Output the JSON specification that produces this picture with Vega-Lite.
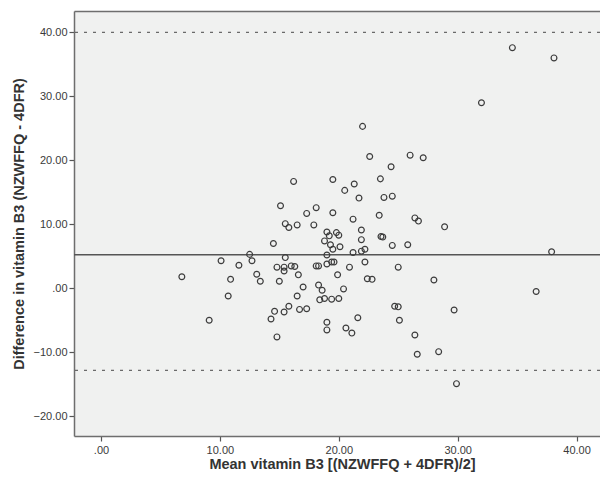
{
  "$schema": "https://vega.github.io/schema/vega-lite/v6.json",
  "width": 526,
  "height": 425,
  "autosize": {"type": "none"},
  "padding": {"left": 74, "top": 11, "right": 0, "bottom": 45},
  "background": "white",
  "config": {
    "view": {"fill": "#F0F1F0", "stroke": null},
    "axis": {
      "grid": false,
      "domain": true,
      "domainColor": "#6E6E6E",
      "domainWidth": 1.5,
      "tickColor": "#555555",
      "tickSize": 5,
      "tickWidth": 1.2,
      "labelFont": "Liberation Sans",
      "labelFontSize": 11,
      "labelColor": "#3a3a3a",
      "labelPadding": 2,
      "titleFont": "Liberation Sans",
      "titleFontSize": 14.5,
      "titleFontWeight": "bold",
      "titleColor": "#333333"
    }
  },
  "resolve": {"axis": {"x": "independent"}},
  "datasets": {
    "points": [
      {"mean": 6.8, "diff": 1.8}, {"mean": 9.1, "diff": -5.0}, {"mean": 10.1, "diff": 4.3}, {"mean": 10.7, "diff": -1.2},
      {"mean": 10.9, "diff": 1.4}, {"mean": 11.6, "diff": 3.6}, {"mean": 12.5, "diff": 5.3}, {"mean": 12.7, "diff": 4.3},
      {"mean": 13.1, "diff": 2.2}, {"mean": 13.4, "diff": 1.1},
      {"mean": 22.0, "diff": 25.3}, {"mean": 22.6, "diff": 20.6}, {"mean": 26.0, "diff": 20.8}, {"mean": 27.1, "diff": 20.4},
      {"mean": 24.4, "diff": 19.0}, {"mean": 16.2, "diff": 16.7}, {"mean": 19.5, "diff": 17.0}, {"mean": 21.3, "diff": 16.3},
      {"mean": 20.5, "diff": 15.3}, {"mean": 23.5, "diff": 17.1}, {"mean": 21.7, "diff": 14.1}, {"mean": 23.8, "diff": 14.2},
      {"mean": 24.5, "diff": 14.4}, {"mean": 15.1, "diff": 12.9}, {"mean": 18.1, "diff": 12.6}, {"mean": 17.3, "diff": 11.7},
      {"mean": 19.5, "diff": 11.8}, {"mean": 21.2, "diff": 10.8}, {"mean": 23.4, "diff": 11.4}, {"mean": 26.4, "diff": 11.0},
      {"mean": 26.7, "diff": 10.5}, {"mean": 15.5, "diff": 10.1}, {"mean": 15.8, "diff": 9.5}, {"mean": 16.5, "diff": 9.9},
      {"mean": 17.9, "diff": 9.9}, {"mean": 21.9, "diff": 9.1}, {"mean": 19.0, "diff": 8.8}, {"mean": 19.2, "diff": 8.2},
      {"mean": 19.8, "diff": 8.7}, {"mean": 20.0, "diff": 8.3}, {"mean": 18.8, "diff": 7.4}, {"mean": 21.9, "diff": 7.6},
      {"mean": 23.55, "diff": 8.1}, {"mean": 23.7, "diff": 8.0}, {"mean": 14.5, "diff": 7.0}, {"mean": 19.3, "diff": 6.8},
      {"mean": 19.5, "diff": 6.1}, {"mean": 20.1, "diff": 6.5}, {"mean": 22.2, "diff": 6.1}, {"mean": 21.9, "diff": 5.8},
      {"mean": 21.2, "diff": 5.6}, {"mean": 24.5, "diff": 6.7}, {"mean": 25.8, "diff": 6.8}, {"mean": 15.5, "diff": 4.8},
      {"mean": 19.0, "diff": 5.2}, {"mean": 14.8, "diff": 3.3}, {"mean": 15.4, "diff": 3.3}, {"mean": 15.4, "diff": 2.7},
      {"mean": 16.0, "diff": 3.5}, {"mean": 16.3, "diff": 3.4}, {"mean": 16.6, "diff": 2.1}, {"mean": 18.1, "diff": 3.5},
      {"mean": 18.3, "diff": 3.5}, {"mean": 19.0, "diff": 3.8}, {"mean": 19.4, "diff": 4.1}, {"mean": 19.6, "diff": 4.1},
      {"mean": 20.9, "diff": 3.3}, {"mean": 22.2, "diff": 4.1}, {"mean": 25.0, "diff": 3.3}, {"mean": 15.0, "diff": 1.1},
      {"mean": 19.9, "diff": 2.1}, {"mean": 17.0, "diff": 0.2}, {"mean": 16.5, "diff": -1.2}, {"mean": 18.3, "diff": 0.5},
      {"mean": 18.6, "diff": -0.3}, {"mean": 20.4, "diff": -0.1}, {"mean": 22.4, "diff": 1.5}, {"mean": 22.8, "diff": 1.4},
      {"mean": 15.8, "diff": -2.8}, {"mean": 14.6, "diff": -3.6}, {"mean": 15.4, "diff": -3.7}, {"mean": 14.3, "diff": -4.8},
      {"mean": 16.7, "diff": -3.3}, {"mean": 17.3, "diff": -3.2}, {"mean": 18.4, "diff": -1.8}, {"mean": 18.8, "diff": -1.6},
      {"mean": 19.4, "diff": -1.7}, {"mean": 20.0, "diff": -1.6}, {"mean": 24.7, "diff": -2.8}, {"mean": 25.0, "diff": -2.9},
      {"mean": 19.0, "diff": -5.3}, {"mean": 19.0, "diff": -6.5}, {"mean": 21.6, "diff": -4.6}, {"mean": 20.6, "diff": -6.2},
      {"mean": 21.1, "diff": -7.0}, {"mean": 25.1, "diff": -5.0}, {"mean": 14.8, "diff": -7.6}, {"mean": 26.4, "diff": -7.3},
      {"mean": 26.6, "diff": -10.3},
      {"mean": 28.9, "diff": 9.6}, {"mean": 37.9, "diff": 5.7}, {"mean": 28.0, "diff": 1.3}, {"mean": 36.6, "diff": -0.5},
      {"mean": 29.7, "diff": -3.4}, {"mean": 28.4, "diff": -9.9}, {"mean": 29.9, "diff": -14.9},
      {"mean": 34.6, "diff": 37.6}, {"mean": 38.1, "diff": 36.0}, {"mean": 32.0, "diff": 29.0}
    ],
    "meanline": [{"value": 5.25}],
    "limits": [{"value": 40.0}, {"value": -12.84}]
  },
  "layer": [
    {
      "data": {"name": "limits"},
      "mark": {"type": "rule", "color": "#6a6a6a", "strokeWidth": 1.3, "strokeDash": [3, 6]},
      "encoding": {
        "y": {"field": "value", "type": "quantitative", "scale": {"domain": [-23.08, 43.33], "nice": false, "zero": false}}
      }
    },
    {
      "data": {"name": "meanline"},
      "mark": {"type": "rule", "color": "#555555", "strokeWidth": 1.5},
      "encoding": {
        "y": {"field": "value", "type": "quantitative"}
      }
    },
    {
      "data": {"name": "points"},
      "mark": {"type": "point", "shape": "circle", "filled": false, "opacity": 0},
      "encoding": {
        "x": {
          "field": "mean", "type": "quantitative",
          "scale": {"domain": [-2.27, 41.97], "nice": false, "zero": false},
          "axis": {"orient": "top", "labels": false, "ticks": false, "title": null}
        },
        "y": {"field": "diff", "type": "quantitative"}
      }
    },
    {
      "data": {"name": "points"},
      "mark": {"type": "point", "shape": "circle", "filled": false, "stroke": "#3c3c3c", "strokeWidth": 1.2, "size": 34, "opacity": 1},
      "encoding": {
        "x": {
          "field": "mean", "type": "quantitative",
          "scale": {"domain": [-2.27, 41.97], "nice": false, "zero": false},
          "axis": {
            "orient": "bottom",
            "title": "Mean vitamin B3 [(NZWFFQ + 4DFR)/2]",
            "values": [0, 10, 20, 30, 40],
            "labelExpr": "datum.value == 0 ? '.00' : format(datum.value, '.2f')",
            "labelPadding": 3,
            "titlePadding": 2,
            "titleX": 268
          }
        },
        "y": {
          "field": "diff", "type": "quantitative",
          "scale": {"domain": [-23.08, 43.33], "nice": false, "zero": false},
          "axis": {
            "title": "Difference in vitamin B3 (NZWFFQ - 4DFR)",
            "values": [-20, -10, 0, 10, 20, 30, 40],
            "labelExpr": "datum.value == 0 ? '.00' : format(datum.value, '.2f')",
            "titlePadding": 7
          }
        }
      }
    }
  ]
}
